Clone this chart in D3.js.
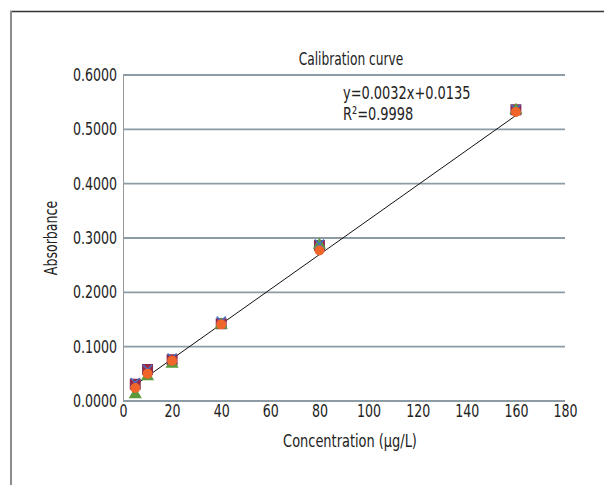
<!DOCTYPE html>
<html>
<head>
<meta charset="utf-8">
<script src="https://cdn.jsdelivr.net/npm/d3@7"></script>
<style>
  body { margin: 0; background: #fff; }
  svg text { font-family: "Liberation Sans Narrow", "DejaVu Sans Condensed", sans-serif; fill: #222; }
</style>
</head>
<body>
<svg id="chart"></svg>
<script>
// data
const concentrations = [5, 10, 20, 40, 80, 160];
const seriesBlue   = [0.034, 0.058, 0.079, 0.147, 0.289, 0.537];
const seriesRed    = [0.031, 0.058, 0.076, 0.142, 0.286, 0.536];
const seriesGreen  = [0.012, 0.045, 0.068, 0.140, 0.287, 0.535];
const seriesOrange = [0.024, 0.050, 0.074, 0.141, 0.277, 0.532];
const xTicks = [0, 20, 40, 60, 80, 100, 120, 140, 160, 180];
const yTicks = [0, 0.1, 0.2, 0.3, 0.4, 0.5, 0.6];
const slope = 0.0032, intercept = 0.0135;

const W = 604, H = 485;
const margin = { top: 75, right: 39, bottom: 84, left: 123 };
const width = W - margin.left - margin.right;
const height = H - margin.top - margin.bottom;

// the original uses a condensed face; squeeze DejaVu Condensed a bit more
const squeeze = 0.8;

const svg = d3.select("#chart").attr("width", W).attr("height", H);

// outer frame (top + left edges only are visible)
svg.append("line").attr("x1", 10).attr("x2", W).attr("y1", 11.5).attr("y2", 11.5)
  .attr("stroke", "#333").attr("stroke-width", 1.5);
svg.append("line").attr("x1", 11).attr("x2", 11).attr("y1", 11).attr("y2", H)
  .attr("stroke", "#8c8c8c").attr("stroke-width", 2);

const g = svg.append("g").attr("transform", `translate(${margin.left},${margin.top})`);

const x = d3.scaleLinear().domain([0, 180]).range([0, width]);
const y = d3.scaleLinear().domain([0, 0.6]).range([height, 0]);

// gridlines
g.selectAll(".grid")
  .data(yTicks)
  .join("line")
  .attr("class", "grid")
  .attr("x1", 0).attr("x2", width)
  .attr("y1", d => y(d)).attr("y2", d => y(d))
  .attr("stroke", "#8d9ba5")
  .attr("stroke-width", 1.8);

// y axis
const yAxis = g.append("g")
  .call(d3.axisLeft(y).tickValues(yTicks).tickFormat(d3.format(".4f")).tickSize(0).tickPadding(6));
yAxis.select(".domain").attr("stroke", "#999");
yAxis.selectAll("text")
  .attr("x", 0)
  .attr("transform", `translate(-6,0) scale(${squeeze},1)`)
  .style("font-size", "17.5px");

// x axis
const xAxis = g.append("g")
  .attr("transform", `translate(0,${height})`)
  .call(d3.axisBottom(x).tickValues(xTicks).tickSize(0).tickPadding(4));
xAxis.select(".domain").remove();
xAxis.selectAll("text")
  .attr("transform", `scale(${squeeze},1)`)
  .style("font-size", "17.5px");

// trendline
const line = d3.line().x(d => x(d)).y(d => y(slope * d + intercept));
g.append("path")
  .datum([concentrations[0], concentrations[concentrations.length - 1]])
  .attr("fill", "none")
  .attr("stroke", "#111")
  .attr("stroke-width", 1)
  .attr("d", line);

function drawSeries(values, symbolType, size, fill, stroke) {
  g.selectAll(null)
    .data(values.map((v, i) => ({ c: concentrations[i], v })))
    .join("path")
    .attr("transform", d => `translate(${x(d.c)},${y(d.v)})`)
    .attr("d", d3.symbol().type(symbolType).size(size))
    .attr("fill", fill)
    .attr("stroke", stroke)
    .attr("stroke-width", stroke === "none" ? 0 : 1.5);
}

drawSeries(seriesRed, d3.symbolSquare, 90, "#a2283f", "#8a2a55");
drawSeries(seriesGreen, d3.symbolTriangle, 75, "#5b9a3c", "none");
drawSeries(seriesBlue, d3.symbolTimes, 55, "none", "#4472c4");
drawSeries(seriesOrange, d3.symbolCircle, 78, "#f0652a", "none");

function label(txt, px, py, size, anchor, rot) {
  return svg.append("text")
    .attr("transform", `translate(${px},${py})${rot ? ` rotate(${rot})` : ""} scale(${squeeze},1)`)
    .attr("text-anchor", anchor)
    .style("font-size", size + "px")
    .text(txt);
}

// title and equation
label("Calibration curve", 351, 65, 17, "middle");
label("y=0.0032x+0.0135", 343, 99, 18, "start");
label("R²=0.9998", 343, 120, 18, "start");

// axis titles
label("Absorbance", 57, margin.top + height / 2, 17.5, "middle", -90);
label("Concentration (µg/L)", 350, 447, 18, "middle");
</script>
</body>
</html>
